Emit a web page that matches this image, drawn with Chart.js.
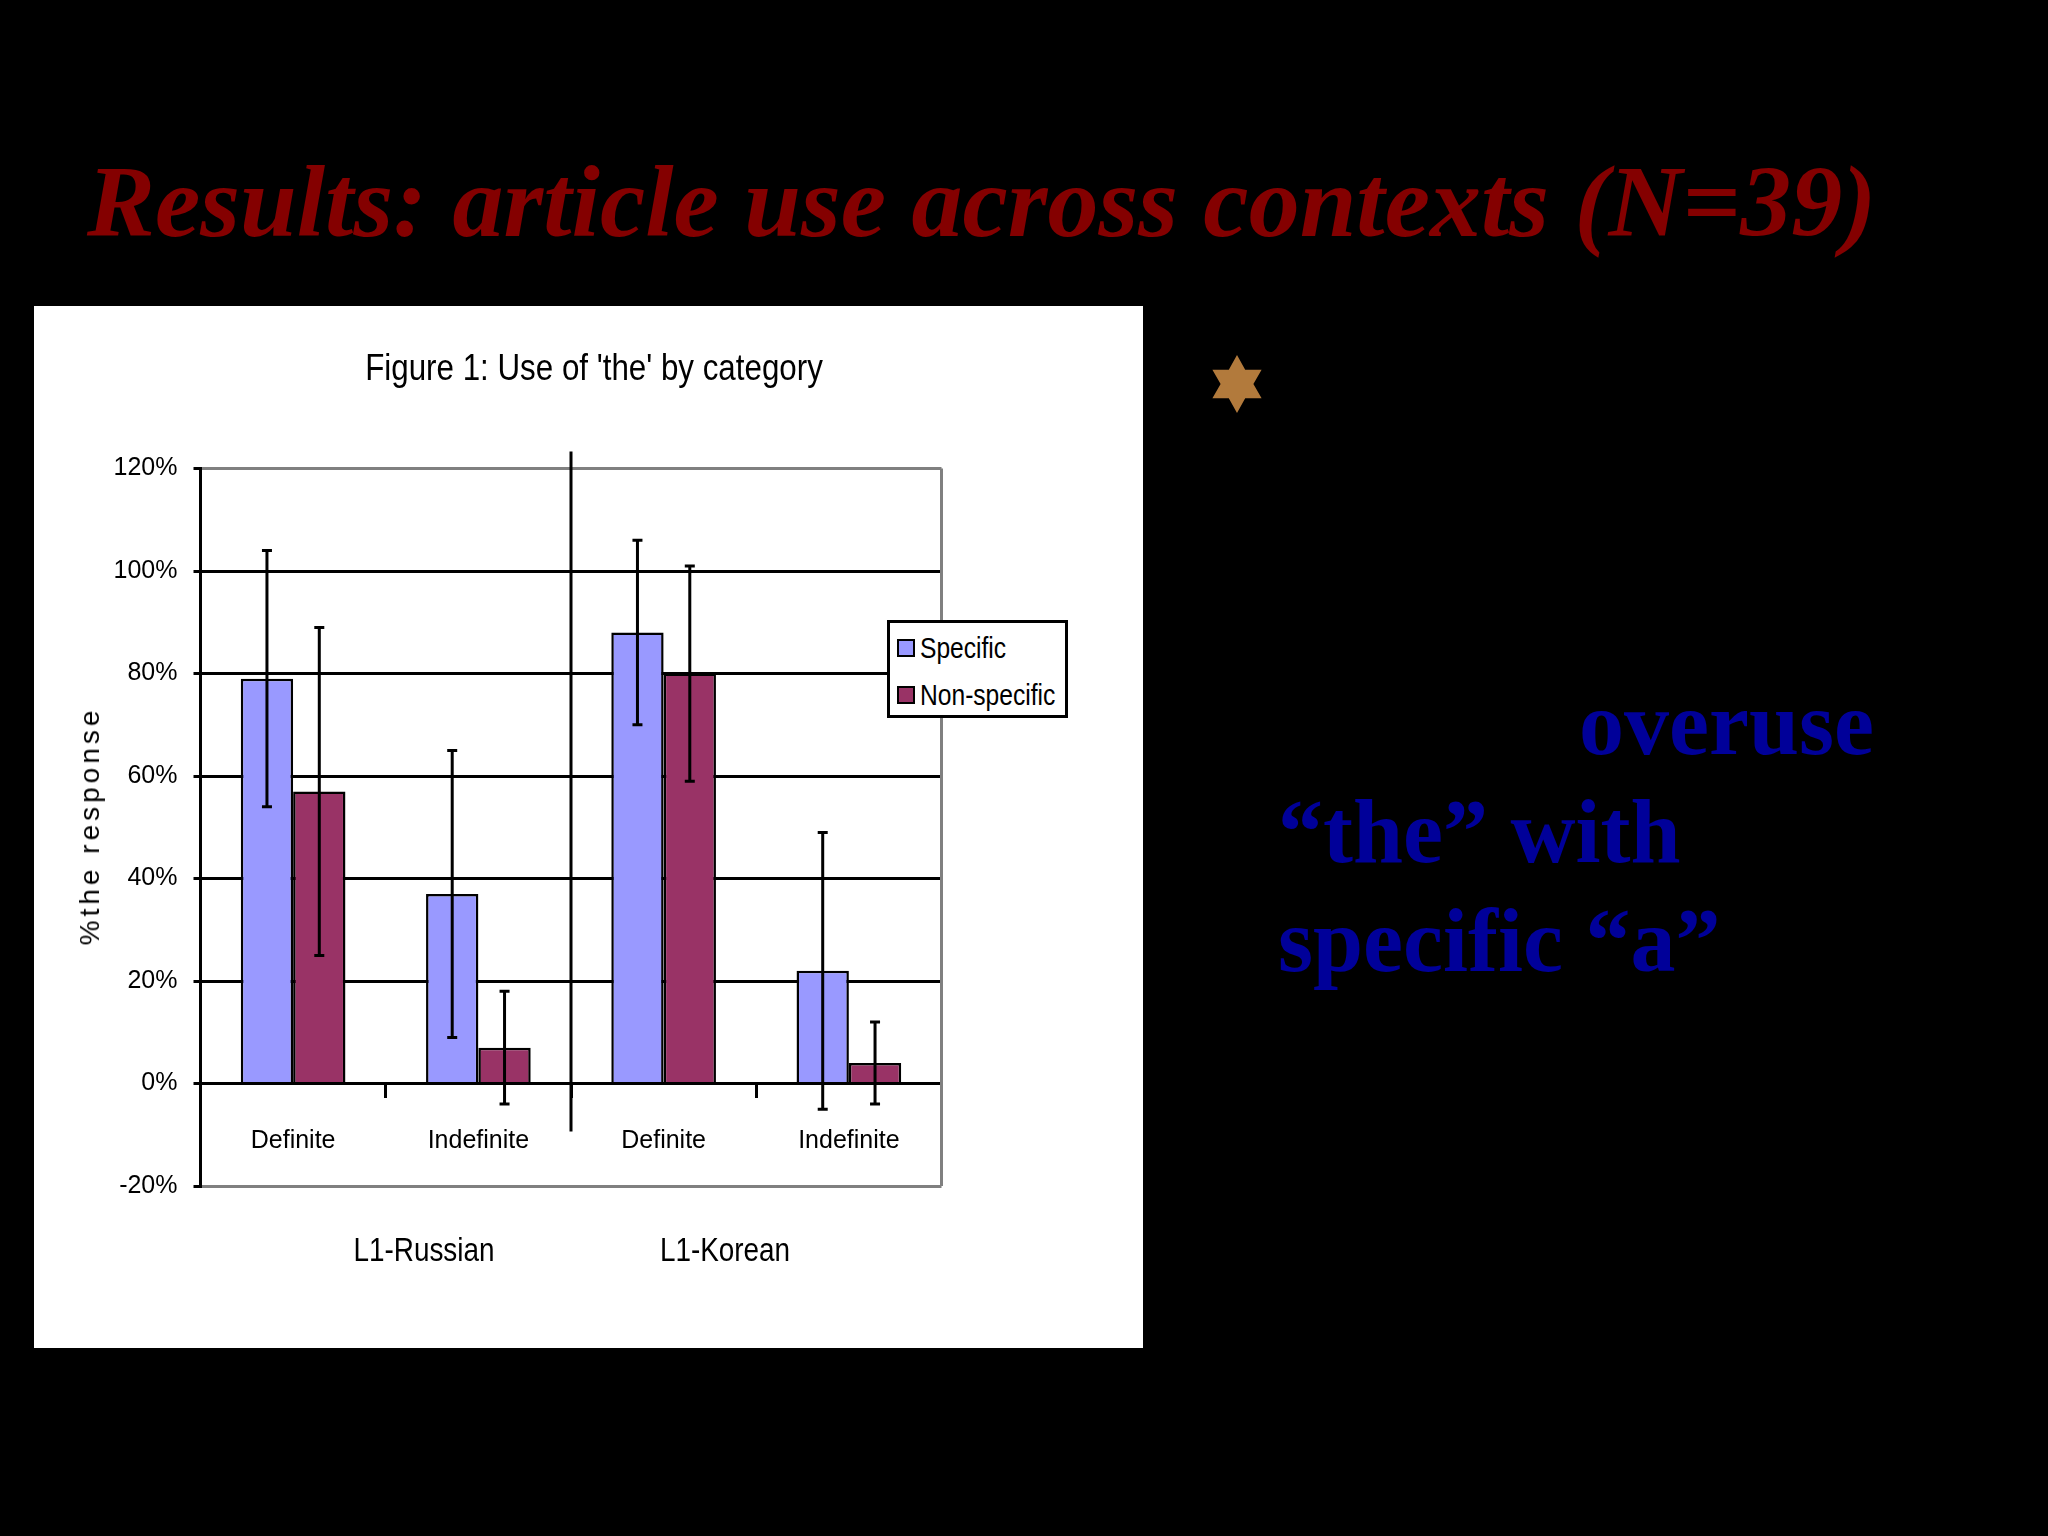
<!DOCTYPE html>
<html>
<head>
<meta charset="utf-8">
<script src="https://cdn.jsdelivr.net/npm/chart.js@4.4.1/dist/chart.umd.min.js"></script>
<style>
  html, body { margin: 0; padding: 0; background: #000; }
  body { width: 2048px; height: 1536px; position: relative; overflow: hidden; }
  .abs { position: absolute; white-space: nowrap; }
  #title { left: 87px; top: 151px; font: italic bold 102px "Liberation Serif", "Times New Roman", serif; line-height: 102px; color: #840000; }
  .blue { font: bold 90px "Liberation Serif", "Times New Roman", serif; line-height: 90px; color: #000099; }
  #box { left: 34px; top: 306px; width: 1109px; height: 1042px; background: #fff; }
  #chart { position: absolute; left: 0; top: 0; }
  .sans { font-family: "Liberation Sans", Arial, sans-serif; color: #000; }
  #ytitle { font-family: "Liberation Sans", Arial, sans-serif; font-size: 28px; letter-spacing: 4px; color: #000; }
  #legend { left: 853px; top: 314px; width: 175px; height: 92px; border: 3px solid #000; background: #fff; }
  .lrow { position: absolute; left: 7px; height: 32px; display: flex; align-items: center; }
  .lrow span { display: inline-block; font-size: 30px; transform: scaleX(0.82); transform-origin: left center; }
  .sw { width: 14px; height: 14px; border: 2.5px solid #000; margin-right: 5px; flex: none; }
</style>
</head>
<body>
<div id="title" class="abs">Results: article use across contexts (N=39)</div>

<svg class="abs" style="left:1205px; top:352px;" width="64" height="64" viewBox="-32 -32 64 64">
  <polygon fill="#B27A3C" points="0,-29 8.2,-14.2 24.6,-14.2 16.4,0 24.6,14.2 8.2,14.2 0,29 -8.2,14.2 -24.6,14.2 -16.4,0 -24.6,-14.2 -8.2,-14.2"/>
</svg>
<div class="abs blue" style="left:1579px; top:679px;">overuse</div>
<div class="abs blue" style="left:1278px; top:787px;">“the” with</div>
<div class="abs blue" style="left:1278px; top:896px;">specific “a”</div>

<div id="box" class="abs">
  <canvas id="chart" width="1109" height="1042"></canvas>
  <div class="abs sans" style="left:560px; top:62px; font-size:36px; transform: translate(-50%,-50%) scaleX(0.87);">Figure 1: Use of 'the' by category</div>
  <div id="ytitle" class="abs" style="left:56px; top:520px; transform: translate(-50%,-50%) rotate(-90deg);">%the response</div>
  <div class="abs sans" style="left:390px; top:943px; font-size:34px; transform: translate(-50%,-50%) scaleX(0.82);">L1-Russian</div>
  <div class="abs sans" style="left:691px; top:943px; font-size:34px; transform: translate(-50%,-50%) scaleX(0.82);">L1-Korean</div>
  <div id="legend" class="abs sans"></div>
</div>

<script>
// ---- data ----
const categories = ["Definite", "Indefinite", "Definite", "Indefinite"];
const groupLabels = ["L1-Russian", "L1-Korean"];
const seriesNames = ["Specific", "Non-specific"];
const specificValues = [79, 37, 88, 22];
const nonSpecificValues = [57, 7, 80, 4];
const specificErrors = [25, 28, 18, 27];
const nonSpecificErrors = [32, 11, 21, 8];
const yTicks = [-20, 0, 20, 40, 60, 80, 100, 120];

const tickFont = '"Liberation Sans", Arial, sans-serif';
const colors = ["#9999FF", "#993366"];

const errorBarPlugin = {
  id: 'errorBars',
  afterDatasetsDraw(chart) {
    const ctx = chart.ctx;
    const y = chart.scales.y;
    ctx.save();
    ctx.strokeStyle = '#000';
    ctx.lineWidth = 3;
    chart.data.datasets.forEach((ds, i) => {
      const meta = chart.getDatasetMeta(i);
      meta.data.forEach((bar, j) => {
        const v = ds.data[j], e = ds.errorBars[j];
        const yt = y.getPixelForValue(v + e), yb = y.getPixelForValue(v - e);
        const x = bar.x;
        ctx.beginPath();
        ctx.moveTo(x, yt); ctx.lineTo(x, yb);
        ctx.moveTo(x - 5, yt); ctx.lineTo(x + 5, yt);
        ctx.moveTo(x - 5, yb); ctx.lineTo(x + 5, yb);
        ctx.stroke();
      });
    });
    ctx.restore();
  }
};

const framePlugin = {
  id: 'frame',
  beforeDatasetsDraw(chart) {
    const ctx = chart.ctx, a = chart.chartArea;
    ctx.save();
    ctx.strokeStyle = '#808080';
    ctx.lineWidth = 3;
    ctx.beginPath();
    ctx.moveTo(a.right, a.top); ctx.lineTo(a.right, a.bottom);
    ctx.stroke();
    ctx.restore();
  },
  afterDatasetsDraw(chart) {
    const ctx = chart.ctx, a = chart.chartArea;
    const xs = chart.scales.x, ys = chart.scales.y;
    const sx = (xs.getPixelForValue(1) + xs.getPixelForValue(2)) / 2;
    ctx.save();
    ctx.strokeStyle = '#000';
    ctx.lineWidth = 3;
    ctx.beginPath();
    ctx.moveTo(sx, a.top - 17);
    ctx.lineTo(sx, ys.getPixelForValue(0) + 48);
    ctx.stroke();
    ctx.restore();
  }
};

const chart = new Chart(document.getElementById('chart'), {
  type: 'bar',
  data: {
    labels: categories,
    datasets: [
      { label: seriesNames[0], data: specificValues, errorBars: specificErrors,
        backgroundColor: colors[0], borderColor: '#000', borderWidth: 2.5 },
      { label: seriesNames[1], data: nonSpecificValues, errorBars: nonSpecificErrors,
        backgroundColor: colors[1], borderColor: '#000', borderWidth: 2.5 }
    ]
  },
  options: {
    responsive: false,
    animation: false,
    devicePixelRatio: 1,
    layout: { padding: { left: 0, right: 201.5, top: 162.5, bottom: 162 } },
    datasets: { bar: { categoryPercentage: 0.565, barPercentage: 1.0 } },
    plugins: { legend: { display: false }, title: { display: false }, tooltip: { enabled: false } },
    scales: {
      y: {
        min: -20, max: 120,
        afterFit(s) { s.width = 166.5; },
        afterBuildTicks(s) { s.ticks = yTicks.map(v => ({ value: v })); },
        ticks: { callback: v => v + '%', font: { family: tickFont, size: 25 }, color: '#000', padding: 16 },
        grid: {
          color: c => (c.tick && (c.tick.value === 120 || c.tick.value === -20)) ? '#808080' : '#000',
          tickColor: '#000', lineWidth: 3, tickLength: 7
        },
        border: { display: true, color: '#000', width: 3 }
      },
      x: {
        position: { y: 0 },
        grid: { drawOnChartArea: false, offset: true, color: '#000', lineWidth: 3, tickLength: 13 },
        border: { display: true, color: '#000', width: 3 },
        ticks: { font: { family: tickFont, size: 25 }, color: '#000', padding: 30, maxRotation: 0 }
      }
    }
  },
  plugins: [framePlugin, errorBarPlugin]
});

// legend built from datasets
const leg = document.getElementById('legend');
chart.data.datasets.forEach((ds, i) => {
  const row = document.createElement('div');
  row.className = 'lrow';
  row.style.top = (9 + i * 47) + 'px';
  row.innerHTML = '<div class="sw" style="background:' + ds.backgroundColor + '"></div><span>' + ds.label + '</span>';
  leg.appendChild(row);
});
</script>
</body>
</html>
